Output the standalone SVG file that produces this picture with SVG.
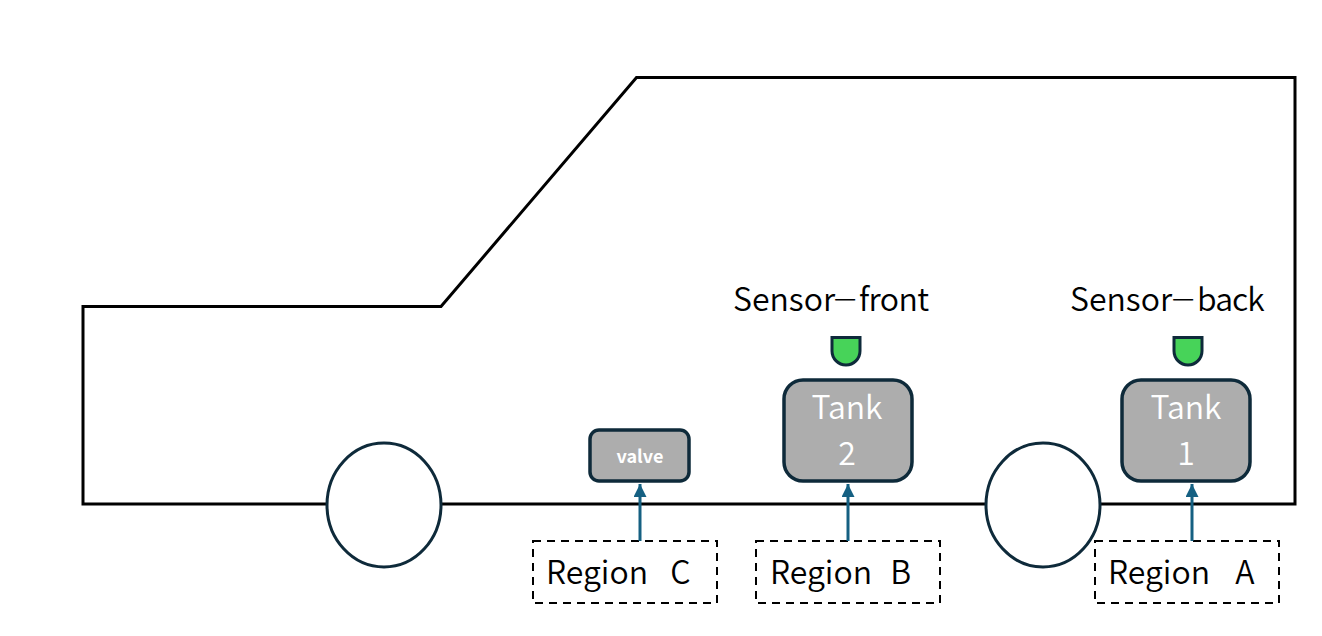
<svg xmlns="http://www.w3.org/2000/svg" width="1322" height="636" viewBox="0 0 1322 636">
<style>
text{font-family:"Noto Sans CJK KR","Noto Sans",sans-serif;font-weight:350}
.label{font-size:32px;fill:#000;word-spacing:15px}
.dash{font-size:25px}
.tight{letter-spacing:-.6px}
.tighter{letter-spacing:-1px}
.tank rect{fill:#adadad;stroke:#0e2a3a;stroke-width:3.5}
.tank text{font-size:32px;fill:#fff;text-anchor:middle}
.tank text.small{font-size:18px;font-weight:700}
.region rect{fill:#fff;stroke:#000;stroke-width:2;stroke-dasharray:8 6}
.sensor path{fill:#47d359;stroke:#0e2a3a;stroke-width:3}
.wheel{fill:#fff;stroke:#0e2a3a;stroke-width:3}
.link{stroke:#156082;stroke-width:3;fill:none;marker-end:url(#head)}
</style>
<defs><marker id="head" markerUnits="userSpaceOnUse" markerWidth="14" markerHeight="14" refX="13" refY="6.5" orient="auto"><path d="M0 0L13 6.500L0 13Z" fill="#156082"/></marker></defs>
<!-- vehicle outline -->
<path id="body" d="M83 504V306.500H441L636.500 77.500H1295V504Z" fill="#fff" stroke="#000" stroke-width="3"/>
<ellipse class="wheel" id="wheel-front" cx="384" cy="505" rx="57" ry="62"/>
<ellipse class="wheel" id="wheel-back" cx="1043" cy="505" rx="57" ry="62"/>
<g id="valve" class="tank"><rect x="590" y="430" width="99" height="51" rx="9"/><text class="small" x="640" y="463">valve</text></g>
<g id="tank-2" class="tank"><rect x="784" y="380" width="128" height="101" rx="19"/><text x="847" y="419">Tank</text><text x="847" y="465">2</text></g>
<g id="tank-1" class="tank"><rect x="1122" y="380" width="128" height="101" rx="19"/><text x="1186" y="419">Tank</text><text x="1186" y="465">1</text></g>
<g id="sensor-front" class="sensor"><path d="M832 337.500H860V351A14 14 0 0 1 832 351Z"/></g>
<g id="sensor-back" class="sensor"><path d="M1174 337.500H1202V351A14 14 0 0 1 1174 351Z"/></g>
<g id="label-front"><text class="label" y="311"><tspan x="733">Sensor</tspan><tspan class="dash" x="834" y="307">—</tspan><tspan class="tight" x="859" y="311">front</tspan></text></g>
<g id="label-back"><text class="label" y="311"><tspan x="1070">Sensor</tspan><tspan class="dash" x="1172" y="307">—</tspan><tspan class="tighter" x="1197" y="311">back</tspan></text></g>
<g id="region-c" class="region"><rect x="533" y="541" width="184" height="62"/><text class="label" x="546" y="584">Region C</text></g>
<g id="region-b" class="region"><rect x="756" y="541" width="184" height="62"/><text class="label" x="770" y="584" style="word-spacing:11px">Region B</text></g>
<g id="region-a" class="region"><rect x="1095" y="541" width="184" height="62"/><text class="label" x="1108" y="584" style="word-spacing:18px">Region A</text></g>
<g id="connectors">
<path class="link" d="M640 541V484"/><path class="link" d="M848 541V484"/><path class="link" d="M1192 541V484"/>
</g>
</svg>
